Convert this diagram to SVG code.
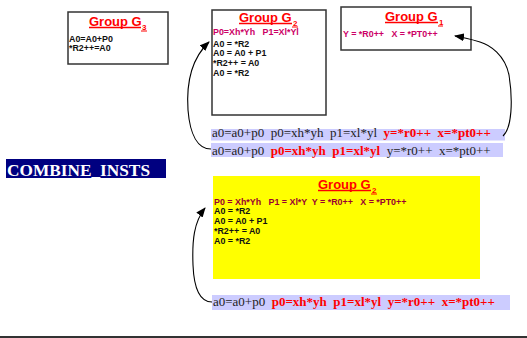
<svg xmlns="http://www.w3.org/2000/svg" width="527" height="338" viewBox="0 0 527 338">
  <defs>
    <marker id="arrow" markerWidth="10" markerHeight="8" refX="9" refY="4" orient="auto" markerUnits="userSpaceOnUse">
      <path d="M0,0 L10,4 L0,8 Z" fill="#000"/>
    </marker>
    <style>
      .box { fill: #fff; stroke: #333; stroke-width: 1.5; }
      .title { font-family: "Liberation Sans", Arial, sans-serif; font-weight: bold; font-size: 13px; fill: #ff0000; }
      .sub { font-family: "Liberation Sans", Arial, sans-serif; font-weight: bold; font-size: 8px; fill: #ff0000; }
      .uline { stroke: #ff0000; stroke-width: 1.4; }
      .suline { stroke: #ff0000; stroke-width: 1; }
      .code { font-family: "Liberation Sans", Arial, sans-serif; font-weight: bold; font-size: 8.9px; fill: #111; }
      .hl { fill: #cc0066; }
      .hl2 { fill: #990033; }
      .bar { fill: #ccccff; }
      .seq { font-family: "Liberation Serif", "Times New Roman", serif; font-size: 13px; fill: #222; }
      .red { fill: #ff0000; font-weight: bold; }
      .conn { fill: none; stroke: #000; stroke-width: 1.1; }
    </style>
  </defs>

  <!-- Group G3 -->
  <g id="group-g3">
    <rect class="box" x="68" y="12" width="100" height="52"/>
    <text class="title" x="89" y="25.5">Group G</text>
    <text class="sub" x="142" y="30">3</text>
    <line class="uline" x1="89" y1="27.5" x2="141" y2="27.5"/>
    <line class="suline" x1="141" y1="31" x2="147" y2="31"/>
    <text class="code" x="69" y="41.5">A0=A0+P0</text>
    <text class="code" x="69" y="50.5">*R2++=A0</text>
  </g>

  <!-- Group G2 -->
  <g id="group-g2">
    <rect class="box" x="212" y="10" width="114" height="105"/>
    <text class="title" x="239" y="21.5">Group G</text>
    <text class="sub" x="293" y="26">2</text>
    <line class="uline" x1="239" y1="23.5" x2="292" y2="23.5"/>
    <line class="suline" x1="292" y1="27" x2="298" y2="27"/>
    <text class="code hl" x="213" y="35" xml:space="preserve">P0=Xh*Yh   P1=Xl*Yl</text>
    <text class="code" x="213" y="46.5">A0 = *R2</text>
    <text class="code" x="213" y="56">A0 = A0 + P1</text>
    <text class="code" x="213" y="65.5">*R2++ = A0</text>
    <text class="code" x="213" y="75.5">A0 = *R2</text>
  </g>

  <!-- Group G1 -->
  <g id="group-g1">
    <rect class="box" x="341" y="7" width="130" height="43"/>
    <text class="title" x="385" y="20.5">Group G</text>
    <text class="sub" x="439" y="25">1</text>
    <line class="uline" x1="385" y1="22.5" x2="438" y2="22.5"/>
    <line class="suline" x1="438" y1="26" x2="443" y2="26"/>
    <text class="code hl" x="343" y="37" xml:space="preserve">Y = *R0++   X = *PT0++</text>
  </g>

  <!-- Instruction sequence before combining -->
  <g id="seq-1">
    <rect class="bar" x="211" y="129" width="294" height="11.5"/>
    <text class="seq" x="212" y="137" xml:space="preserve">a0=a0+p0  p0=xh*yh  p1=xl*yl  <tspan class="red">y=*r0++  x=*pt0++</tspan></text>
  </g>

  <g id="seq-2">
    <rect class="bar" x="211" y="143" width="292" height="14"/>
    <text class="seq" x="212" y="155" xml:space="preserve">a0=a0+p0  <tspan class="red">p0=xh*yh  p1=xl*yl</tspan>  y=*r0++  x=*pt0++</text>
  </g>

  <!-- Label -->
  <g id="combine-insts">
    <rect x="6" y="159" width="160" height="19" fill="#000080"/>
    <text x="7" y="176" font-family="'Liberation Serif', 'Times New Roman', serif" font-weight="bold" font-size="17px" fill="#fff" textLength="143" lengthAdjust="spacingAndGlyphs">COMBINE_INSTS</text>
  </g>

  <!-- Combined group G2 -->
  <g id="group-g2-combined">
    <rect x="213" y="176" width="267" height="103" fill="#ffff00"/>
    <text class="title" x="318" y="188.5">Group G</text>
    <text class="sub" x="372" y="193">2</text>
    <line class="uline" x1="318" y1="190.5" x2="371" y2="190.5"/>
    <line class="suline" x1="371" y1="194" x2="377" y2="194"/>
    <text class="code hl2" x="214" y="204.7" xml:space="preserve">P0 = Xh*Yh   P1 = Xl*Y  Y = *R0++   X = *PT0++</text>
    <text class="code" x="214" y="213.7">A0 = *R2</text>
    <text class="code" x="214" y="223.7">A0 = A0 + P1</text>
    <text class="code" x="214" y="233.7">*R2++ = A0</text>
    <text class="code" x="214" y="243.7">A0 = *R2</text>
  </g>

  <g id="seq-3">
    <rect class="bar" x="212" y="295" width="298" height="15"/>
    <text class="seq" x="213" y="306" xml:space="preserve">a0=a0+p0  <tspan class="red">p0=xh*yh  p1=xl*yl  y=*r0++  x=*pt0++</tspan></text>
  </g>

  <!-- Connectors -->
  <g id="connectors">
    <path class="conn" d="M211,149 C198,149 190,135 188,110 C186,80 192,58 209,42" marker-end="url(#arrow)"/>
    <path class="conn" d="M503,136 C512,128 513,100 509,75 C505,55 490,45 480,42 C470,39 462,37 455,36" marker-end="url(#arrow)"/>
    <path class="conn" d="M212,302 C200,302 194,290 193,265 C192,240 194,222 205,208" marker-end="url(#arrow)"/>
  </g>

  <!-- Footer rule -->
  <line x1="0" y1="337" x2="527" y2="337" stroke="#333" stroke-width="2"/>
</svg>
